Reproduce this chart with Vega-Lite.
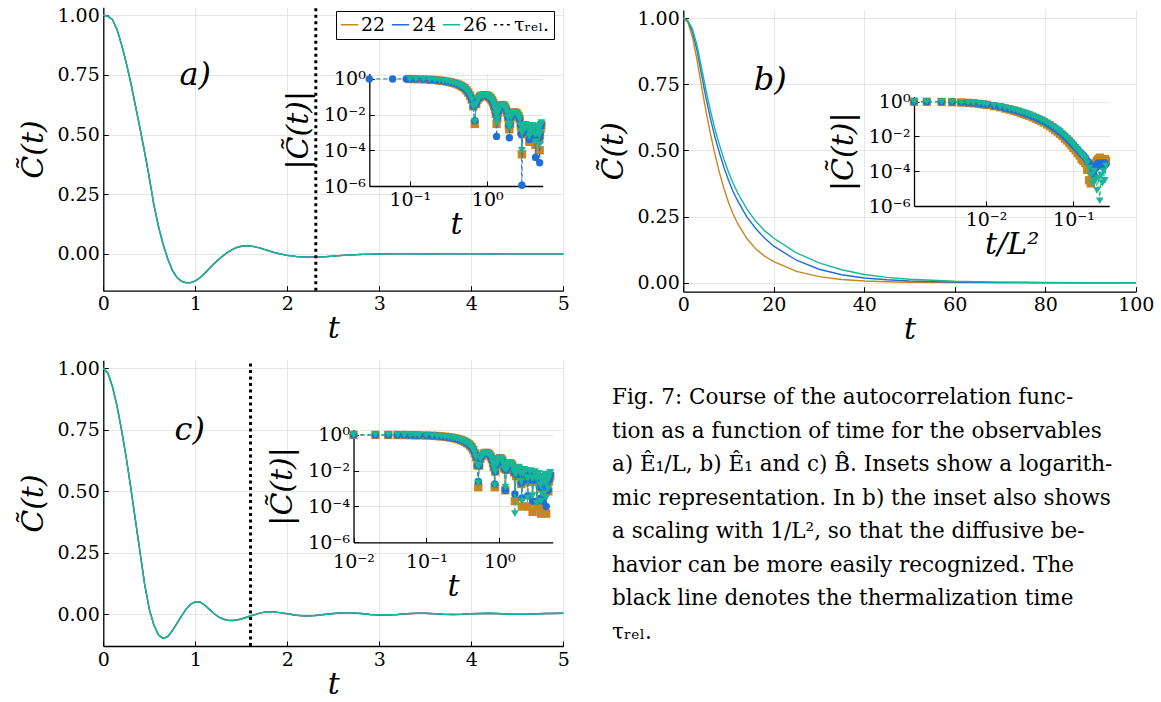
{
  "$schema": "https://vega.github.io/schema/vega-lite/v6.json",
  "width": 1161,
  "height": 702,
  "autosize": {"type": "none"},
  "padding": 0,
  "background": "white",
  "config": {
    "view": {"stroke": null},
    "font": "DejaVu Serif",
    "axis": {
      "labelFont": "DejaVu Serif", "labelFontSize": 19, "labelColor": "#000",
      "titleFont": "DejaVu Serif", "titleFontSize": 30, "titleFontStyle": "italic", "titleFontWeight": "normal", "titleColor": "#000",
      "domainColor": "#000", "domainWidth": 1.3,
      "tickColor": "#000", "tickSize": -5, "tickWidth": 1,
      "gridColor": "#e6e6e6", "gridWidth": 1,
      "labelPadding": 9, "titlePadding": 6, "labelFlush": false
    },
    "legend": {
      "orient": "none", "legendX": 336, "legendY": 11, "direction": "horizontal",
      "fillColor": "white", "strokeColor": "#000", "padding": 4,
      "labelFont": "DejaVu Serif", "labelFontSize": 19, "labelColor": "#000",
      "symbolType": "stroke", "symbolSize": 300, "symbolStrokeWidth": 1.6,
      "columnPadding": 2, "labelOffset": 2
    }
  },
  "datasets": {
    "mainA": [
      {"t":0,"22":1,"24":1,"26":1},{"t":0.05,"22":0.996,"24":0.996,"26":0.996},{"t":0.1,"22":0.982,"24":0.982,"26":0.982},
      {"t":0.15,"22":0.94,"24":0.94,"26":0.94},{"t":0.2,"22":0.875,"24":0.875,"26":0.875},{"t":0.25,"22":0.8,"24":0.8,"26":0.8},
      {"t":0.3,"22":0.715,"24":0.715,"26":0.715},{"t":0.35,"22":0.62,"24":0.62,"26":0.62},{"t":0.4,"22":0.525,"24":0.525,"26":0.525},
      {"t":0.45,"22":0.425,"24":0.425,"26":0.425},{"t":0.5,"22":0.32,"24":0.32,"26":0.32},{"t":0.55,"22":0.205,"24":0.205,"26":0.205},
      {"t":0.6,"22":0.115,"24":0.115,"26":0.115},{"t":0.65,"22":0.04,"24":0.04,"26":0.04},{"t":0.7,"22":-0.02,"24":-0.02,"26":-0.02},
      {"t":0.75,"22":-0.068,"24":-0.068,"26":-0.068},{"t":0.8,"22":-0.098,"24":-0.099,"26":-0.098},{"t":0.85,"22":-0.114,"24":-0.115,"26":-0.114},
      {"t":0.9,"22":-0.12,"24":-0.121,"26":-0.12},{"t":0.95,"22":-0.12,"24":-0.121,"26":-0.12},{"t":1.0,"22":-0.113,"24":-0.113,"26":-0.113},
      {"t":1.05,"22":-0.1,"24":-0.1,"26":-0.1},{"t":1.1,"22":-0.082,"24":-0.082,"26":-0.082},{"t":1.15,"22":-0.062,"24":-0.062,"26":-0.062},
      {"t":1.2,"22":-0.042,"24":-0.042,"26":-0.042},{"t":1.25,"22":-0.024,"24":-0.024,"26":-0.024},{"t":1.3,"22":-0.008,"24":-0.008,"26":-0.008},
      {"t":1.35,"22":0.006,"24":0.006,"26":0.006},{"t":1.4,"22":0.018,"24":0.018,"26":0.018},{"t":1.45,"22":0.027,"24":0.027,"26":0.027},
      {"t":1.5,"22":0.032,"24":0.032,"26":0.032},{"t":1.55,"22":0.034,"24":0.034,"26":0.034},{"t":1.6,"22":0.033,"24":0.033,"26":0.033},
      {"t":1.65,"22":0.03,"24":0.03,"26":0.03},{"t":1.7,"22":0.025,"24":0.025,"26":0.025},{"t":1.75,"22":0.019,"24":0.019,"26":0.019},
      {"t":1.8,"22":0.013,"24":0.013,"26":0.013},{"t":1.85,"22":0.007,"24":0.007,"26":0.007},{"t":1.9,"22":0.002,"24":0.002,"26":0.002},
      {"t":1.95,"22":-0.002,"24":-0.002,"26":-0.002},{"t":2.0,"22":-0.006,"24":-0.006,"26":-0.006},{"t":2.1,"22":-0.011,"24":-0.011,"26":-0.011},
      {"t":2.2,"22":-0.013,"24":-0.013,"26":-0.013},{"t":2.3,"22":-0.013,"24":-0.013,"26":-0.013},{"t":2.4,"22":-0.012,"24":-0.012,"26":-0.012},
      {"t":2.5,"22":-0.009,"24":-0.009,"26":-0.009},{"t":2.6,"22":-0.006,"24":-0.006,"26":-0.006},{"t":2.7,"22":-0.004,"24":-0.004,"26":-0.004},
      {"t":2.8,"22":-0.002,"24":-0.002,"26":-0.002},{"t":2.9,"22":-0.001,"24":-0.001,"26":-0.001},{"t":3.0,"22":0.0,"24":0.0,"26":0.0},
      {"t":3.25,"22":0.001,"24":0.001,"26":0.001},{"t":3.5,"22":0.0,"24":0.0,"26":0.0},{"t":3.75,"22":0.001,"24":0.001,"26":0.001},
      {"t":4.0,"22":0.001,"24":0.001,"26":0.001},{"t":4.25,"22":0.0,"24":0.0,"26":0.0},{"t":4.5,"22":0.001,"24":0.001,"26":0.001},
      {"t":4.75,"22":0.001,"24":0.001,"26":0.001},{"t":5.0,"22":0.001,"24":0.001,"26":0.001}
    ],
    "mainB": [
      {"t":0,"22":1,"24":1,"26":1},{"t":1,"22":0.985,"24":0.99,"26":0.99},{"t":2,"22":0.93,"24":0.95,"26":0.96},
      {"t":3,"22":0.845,"24":0.88,"26":0.9},{"t":4,"22":0.745,"24":0.79,"26":0.815},{"t":5,"22":0.65,"24":0.7,"26":0.73},
      {"t":6,"22":0.563,"24":0.62,"26":0.65},{"t":7,"22":0.485,"24":0.55,"26":0.58},{"t":8,"22":0.415,"24":0.49,"26":0.52},
      {"t":9,"22":0.355,"24":0.435,"26":0.465},{"t":10,"22":0.303,"24":0.387,"26":0.418},{"t":11,"22":0.26,"24":0.345,"26":0.376},
      {"t":12,"22":0.224,"24":0.31,"26":0.34},{"t":14,"22":0.168,"24":0.25,"26":0.28},{"t":16,"22":0.128,"24":0.205,"26":0.232},
      {"t":18,"22":0.1,"24":0.168,"26":0.196},{"t":20,"22":0.08,"24":0.138,"26":0.168},{"t":25,"22":0.043,"24":0.085,"26":0.113},
      {"t":30,"22":0.023,"24":0.051,"26":0.075},{"t":35,"22":0.012,"24":0.03,"26":0.049},{"t":40,"22":0.0065,"24":0.018,"26":0.031},
      {"t":45,"22":0.0035,"24":0.011,"26":0.02},{"t":50,"22":0.0019,"24":0.0065,"26":0.013},{"t":60,"22":0.0006,"24":0.0023,"26":0.0054},
      {"t":70,"22":0.0002,"24":0.0008,"26":0.0022},{"t":80,"22":0.0001,"24":0.0003,"26":0.0009},{"t":90,"22":0.0001,"24":0.0001,"26":0.0004},
      {"t":100,"22":0.0001,"24":0.0001,"26":0.0002}
    ],
    "mainC": [
      {"t":0,"22":1,"24":1,"26":1},{"t":0.05,"22":0.98,"24":0.98,"26":0.98},{"t":0.1,"22":0.925,"24":0.925,"26":0.925},
      {"t":0.15,"22":0.845,"24":0.845,"26":0.845},{"t":0.2,"22":0.745,"24":0.745,"26":0.745},{"t":0.25,"22":0.635,"24":0.635,"26":0.635},
      {"t":0.3,"22":0.51,"24":0.51,"26":0.51},{"t":0.35,"22":0.38,"24":0.38,"26":0.38},{"t":0.4,"22":0.25,"24":0.25,"26":0.25},
      {"t":0.45,"22":0.12,"24":0.12,"26":0.12},{"t":0.5,"22":0.02,"24":0.02,"26":0.02},{"t":0.55,"22":-0.045,"24":-0.045,"26":-0.045},
      {"t":0.6,"22":-0.085,"24":-0.085,"26":-0.085},{"t":0.65,"22":-0.099,"24":-0.099,"26":-0.099},{"t":0.7,"22":-0.092,"24":-0.092,"26":-0.092},
      {"t":0.75,"22":-0.068,"24":-0.068,"26":-0.068},{"t":0.8,"22":-0.038,"24":-0.038,"26":-0.038},{"t":0.85,"22":-0.008,"24":-0.008,"26":-0.008},
      {"t":0.9,"22":0.02,"24":0.02,"26":0.02},{"t":0.95,"22":0.04,"24":0.04,"26":0.04},{"t":1.0,"22":0.05,"24":0.05,"26":0.05},
      {"t":1.05,"22":0.049,"24":0.049,"26":0.049},{"t":1.1,"22":0.037,"24":0.037,"26":0.037},{"t":1.15,"22":0.02,"24":0.02,"26":0.02},
      {"t":1.2,"22":0.003,"24":0.003,"26":0.003},{"t":1.25,"22":-0.011,"24":-0.011,"26":-0.011},{"t":1.3,"22":-0.02,"24":-0.02,"26":-0.02},
      {"t":1.35,"22":-0.025,"24":-0.025,"26":-0.025},{"t":1.4,"22":-0.026,"24":-0.026,"26":-0.026},{"t":1.45,"22":-0.024,"24":-0.024,"26":-0.024},
      {"t":1.5,"22":-0.02,"24":-0.02,"26":-0.02},{"t":1.55,"22":-0.014,"24":-0.014,"26":-0.014},{"t":1.6,"22":-0.008,"24":-0.008,"26":-0.008},
      {"t":1.65,"22":-0.002,"24":-0.002,"26":-0.002},{"t":1.7,"22":0.004,"24":0.004,"26":0.004},{"t":1.75,"22":0.008,"24":0.008,"26":0.008},
      {"t":1.8,"22":0.01,"24":0.01,"26":0.01},{"t":1.85,"22":0.009,"24":0.009,"26":0.009},{"t":1.9,"22":0.007,"24":0.007,"26":0.007},
      {"t":1.95,"22":0.004,"24":0.004,"26":0.004},{"t":2.0,"22":0.001,"24":0.001,"26":0.001},{"t":2.1,"22":-0.005,"24":-0.005,"26":-0.005},
      {"t":2.2,"22":-0.008,"24":-0.008,"26":-0.008},{"t":2.3,"22":-0.006,"24":-0.006,"26":-0.006},{"t":2.4,"22":-0.002,"24":-0.002,"26":-0.002},
      {"t":2.5,"22":0.002,"24":0.002,"26":0.002},{"t":2.6,"22":0.005,"24":0.005,"26":0.005},{"t":2.7,"22":0.005,"24":0.005,"26":0.005},
      {"t":2.8,"22":0.002,"24":0.002,"26":0.002},{"t":2.9,"22":-0.002,"24":-0.002,"26":-0.002},{"t":3.0,"22":-0.004,"24":-0.004,"26":-0.004},
      {"t":3.1,"22":-0.004,"24":-0.004,"26":-0.004},{"t":3.2,"22":-0.002,"24":-0.002,"26":-0.002},{"t":3.3,"22":0.001,"24":0.001,"26":0.001},
      {"t":3.4,"22":0.003,"24":0.003,"26":0.003},{"t":3.5,"22":0.003,"24":0.003,"26":0.003},{"t":3.6,"22":0.001,"24":0.001,"26":0.001},
      {"t":3.7,"22":-0.001,"24":-0.001,"26":-0.001},{"t":3.8,"22":-0.002,"24":-0.002,"26":-0.002},{"t":3.9,"22":-0.001,"24":-0.001,"26":-0.001},
      {"t":4.0,"22":0.001,"24":0.001,"26":0.001},{"t":4.2,"22":0.003,"24":0.003,"26":0.003},{"t":4.4,"22":0.0,"24":0.0,"26":0.0},
      {"t":4.6,"22":-0.001,"24":-0.001,"26":-0.001},{"t":4.8,"22":0.002,"24":0.002,"26":0.002},{"t":5.0,"22":0.003,"24":0.003,"26":0.003}
    ],
    "insA": [
      {"t":0.03,"22":null,"24":0.998,"26":null},{"t":0.06,"22":null,"24":0.994,"26":null},{"t":0.09,"22":null,"24":0.987,"26":null},
      {"t":0.1,"22":0.982,"24":0.982,"26":0.982},{"t":0.12,"22":0.968,"24":0.968,"26":0.968},{"t":0.15,"22":0.94,"24":0.94,"26":0.94},
      {"t":0.18,"22":0.902,"24":0.902,"26":0.902},{"t":0.21,"22":0.861,"24":0.861,"26":0.861},{"t":0.24,"22":0.815,"24":0.815,"26":0.815},
      {"t":0.27,"22":0.767,"24":0.767,"26":0.767},{"t":0.3,"22":0.715,"24":0.715,"26":0.715},{"t":0.33,"22":0.658,"24":0.658,"26":0.658},
      {"t":0.36,"22":0.601,"24":0.601,"26":0.601},{"t":0.39,"22":0.544,"24":0.544,"26":0.544},{"t":0.42,"22":0.485,"24":0.485,"26":0.485},
      {"t":0.45,"22":0.425,"24":0.425,"26":0.425},{"t":0.48,"22":0.362,"24":0.362,"26":0.362},{"t":0.51,"22":0.297,"24":0.297,"26":0.297},
      {"t":0.54,"22":0.228,"24":0.228,"26":0.228},{"t":0.57,"22":0.169,"24":0.169,"26":0.169},{"t":0.6,"22":0.115,"24":0.115,"26":0.115},
      {"t":0.63,"22":0.07,"24":0.07,"26":0.07},{"t":0.66,"22":0.029,"24":0.029,"26":0.029},{"t":0.69,"22":0.003,"24":0.0045,"26":0.004},
      {"t":0.72,"22":0.039,"24":0.039,"26":0.039},{"t":0.75,"22":0.068,"24":0.068,"26":0.068},{"t":0.78,"22":0.086,"24":0.086,"26":0.086},
      {"t":0.81,"22":0.102,"24":0.102,"26":0.102},{"t":0.84,"22":0.111,"24":0.111,"26":0.111},{"t":0.87,"22":0.117,"24":0.117,"26":0.117},
      {"t":0.9,"22":0.12,"24":0.12,"26":0.12},{"t":0.93,"22":0.121,"24":0.121,"26":0.121},{"t":0.96,"22":0.119,"24":0.119,"26":0.119},
      {"t":0.99,"22":0.115,"24":0.115,"26":0.115},{"t":1.02,"22":0.108,"24":0.108,"26":0.108},{"t":1.05,"22":0.1,"24":0.1,"26":0.1},
      {"t":1.08,"22":0.089,"24":0.089,"26":0.089},{"t":1.11,"22":0.078,"24":0.078,"26":0.078},{"t":1.14,"22":0.066,"24":0.066,"26":0.066},
      {"t":1.17,"22":0.054,"24":0.054,"26":0.054},{"t":1.2,"22":0.042,"24":0.042,"26":0.042},{"t":1.23,"22":0.031,"24":0.031,"26":0.031},
      {"t":1.26,"22":0.021,"24":0.021,"26":0.021},{"t":1.29,"22":0.011,"24":0.011,"26":0.011},{"t":1.32,"22":0.003,"24":0.0006,"26":0.0035},
      {"t":1.35,"22":0.006,"24":0.006,"26":0.006},{"t":1.38,"22":0.013,"24":0.013,"26":0.013},{"t":1.41,"22":0.02,"24":0.02,"26":0.02},
      {"t":1.44,"22":0.025,"24":0.025,"26":0.025},{"t":1.47,"22":0.029,"24":0.029,"26":0.029},{"t":1.5,"22":0.032,"24":0.032,"26":0.032},
      {"t":1.55,"22":0.034,"24":0.034,"26":0.034},{"t":1.6,"22":0.033,"24":0.033,"26":0.033},{"t":1.65,"22":0.03,"24":0.03,"26":0.03},
      {"t":1.7,"22":0.025,"24":0.025,"26":0.025},{"t":1.75,"22":0.019,"24":0.019,"26":0.019},{"t":1.8,"22":0.013,"24":0.013,"26":0.013},
      {"t":1.85,"22":0.007,"24":0.007,"26":0.007},{"t":1.9,"22":0.0025,"24":0.0025,"26":0.0025},{"t":1.93,"22":0.0015,"24":0.0005,"26":0.002},
      {"t":1.97,"22":0.003,"24":0.003,"26":0.003},{"t":2.02,"22":0.007,"24":0.007,"26":0.007},{"t":2.08,"22":0.01,"24":0.01,"26":0.01},
      {"t":2.15,"22":0.012,"24":0.012,"26":0.012},{"t":2.22,"22":0.013,"24":0.013,"26":0.013},{"t":2.3,"22":0.013,"24":0.013,"26":0.013},
      {"t":2.38,"22":0.012,"24":0.012,"26":0.012},{"t":2.46,"22":0.0098,"24":0.0098,"26":0.0098},{"t":2.54,"22":0.0078,"24":0.0078,"26":0.0078},
      {"t":2.62,"22":0.0055,"24":0.0055,"26":0.0055},{"t":2.7,"22":0.0025,"24":0.0025,"26":0.0025},{"t":2.75,"22":0.0012,"24":0.0008,"26":0.0012},
      {"t":2.8,"22":0.00006,"24":0.0000011,"26":0.0001},{"t":2.86,"22":0.0008,"24":0.0009,"26":0.001},{"t":2.93,"22":0.0013,"24":0.0015,"26":0.0017},
      {"t":3.0,"22":0.0017,"24":0.0019,"26":0.0022},{"t":3.1,"22":0.0021,"24":0.0024,"26":0.0028},{"t":3.2,"22":0.0019,"24":0.0022,"26":0.0026},
      {"t":3.3,"22":0.0014,"24":0.0017,"26":0.002},{"t":3.4,"22":0.0008,"24":0.001,"26":0.0013},{"t":3.5,"22":0.0003,"24":0.0004,"26":0.0006},
      {"t":3.6,"22":0.0007,"24":0.0009,"26":0.0012},{"t":3.7,"22":0.0013,"24":0.0016,"26":0.002},{"t":3.8,"22":0.0018,"24":0.0021,"26":0.0025},
      {"t":3.9,"22":0.0016,"24":0.0019,"26":0.0023},{"t":4.0,"22":0.001,"24":0.0013,"26":0.0016},{"t":4.1,"22":0.0005,"24":0.0006,"26":0.0008},
      {"t":4.2,"22":0.0002,"24":0.00004,"26":0.0003},{"t":4.3,"22":0.0006,"24":0.0007,"26":0.0009},{"t":4.4,"22":0.0012,"24":0.0014,"26":0.0017},
      {"t":4.5,"22":0.0015,"24":0.0018,"26":0.0022},{"t":4.6,"22":0.001,"24":0.0012,"26":0.0015},{"t":4.7,"22":0.0004,"24":0.0005,"26":0.0007},
      {"t":4.75,"22":0.0001,"24":0.00002,"26":0.0002},{"t":4.8,"22":0.0007,"24":0.0008,"26":0.001},{"t":4.9,"22":0.0017,"24":0.002,"26":0.0024},
      {"t":5.0,"22":0.0026,"24":0.003,"26":0.0035}
    ],
    "insB": [
      {"s":0.0015,"22":0.993,"24":0.994,"26":0.995},{"s":0.0021,"22":0.985,"24":0.99,"26":0.99},{"s":0.0031,"22":0.96,"24":0.97,"26":0.97},
      {"s":0.0041,"22":0.93,"24":0.945,"26":0.95},{"s":0.0052,"22":0.89,"24":0.91,"26":0.915},{"s":0.0062,"22":0.85,"24":0.87,"26":0.875},
      {"s":0.0072,"22":0.8,"24":0.825,"26":0.83},{"s":0.0083,"22":0.74,"24":0.77,"26":0.78},{"s":0.0093,"22":0.69,"24":0.72,"26":0.73},
      {"s":0.0103,"22":0.64,"24":0.67,"26":0.68},{"s":0.0124,"22":0.55,"24":0.58,"26":0.59},{"s":0.0145,"22":0.48,"24":0.5,"26":0.51},
      {"s":0.0165,"22":0.4,"24":0.43,"26":0.44},{"s":0.0186,"22":0.35,"24":0.375,"26":0.385},{"s":0.0207,"22":0.3,"24":0.33,"26":0.34},
      {"s":0.023,"22":0.26,"24":0.29,"26":0.3},{"s":0.025,"22":0.222,"24":0.25,"26":0.26},{"s":0.027,"22":0.196,"24":0.22,"26":0.23},
      {"s":0.029,"22":0.175,"24":0.195,"26":0.205},{"s":0.031,"22":0.155,"24":0.175,"26":0.18},{"s":0.034,"22":0.128,"24":0.145,"26":0.152},
      {"s":0.037,"22":0.106,"24":0.122,"26":0.128},{"s":0.04,"22":0.089,"24":0.102,"26":0.107},{"s":0.043,"22":0.076,"24":0.086,"26":0.09},
      {"s":0.046,"22":0.063,"24":0.073,"26":0.077},{"s":0.05,"22":0.049,"24":0.058,"26":0.061},{"s":0.054,"22":0.039,"24":0.046,"26":0.049},
      {"s":0.058,"22":0.03,"24":0.036,"26":0.038},{"s":0.062,"22":0.023,"24":0.029,"26":0.03},{"s":0.066,"22":0.019,"24":0.023,"26":0.024},
      {"s":0.07,"22":0.014,"24":0.018,"26":0.019},{"s":0.075,"22":0.0105,"24":0.0135,"26":0.014},{"s":0.08,"22":0.0075,"24":0.01,"26":0.0105},
      {"s":0.085,"22":0.0058,"24":0.0075,"26":0.0078},{"s":0.09,"22":0.0042,"24":0.0056,"26":0.0058},{"s":0.095,"22":0.0031,"24":0.0042,"26":0.0043},
      {"s":0.1,"22":0.0022,"24":0.0032,"26":0.0032},{"s":0.106,"22":0.0016,"24":0.0024,"26":0.0023},{"s":0.112,"22":0.0011,"24":0.0018,"26":0.0017},
      {"s":0.118,"22":0.0008,"24":0.0013,"26":0.0012},{"s":0.124,"22":0.0005,"24":0.001,"26":0.0009},{"s":0.13,"22":0.0004,"24":0.0008,"26":0.0007},
      {"s":0.137,"22":0.0003,"24":0.0006,"26":0.0005},{"s":0.144,"22":0.00012,"24":0.0004,"26":0.0003},{"s":0.151,"22":0.00003,"24":0.0003,"26":0.00015},
      {"s":0.158,"22":0.00002,"24":0.0002,"26":0.00006},{"s":0.165,"22":0.00008,"24":0.00012,"26":0.00002},{"s":0.172,"22":0.0002,"24":0.00006,"26":0.0001},
      {"s":0.179,"22":0.0003,"24":0.00015,"26":0.00003},{"s":0.186,"22":0.0004,"24":0.00025,"26":0.000008},{"s":0.193,"22":0.0005,"24":0.0003,"26":0.00004},
      {"s":0.2,"22":0.0006,"24":0.00025,"26":0.000002},{"s":0.207,"22":0.0005,"24":0.0002,"26":0.00006},{"s":0.214,"22":0.0003,"24":0.0003,"26":0.00002},
      {"s":0.221,"22":0.0004,"24":0.0002,"26":0.0001},{"s":0.228,"22":0.0005,"24":0.0003,"26":0.00003},{"s":0.235,"22":0.0004,"24":0.00025,"26":0.0002}
    ],
    "insC": [
      {"t":0.01,"22":0.9995,"24":0.9995,"26":0.9995},{"t":0.02,"22":0.998,"24":0.998,"26":0.998},{"t":0.03,"22":0.994,"24":0.994,"26":0.994},
      {"t":0.04,"22":0.989,"24":0.989,"26":0.989},{"t":0.05,"22":0.98,"24":0.98,"26":0.98},{"t":0.06,"22":0.97,"24":0.97,"26":0.97},
      {"t":0.07,"22":0.958,"24":0.958,"26":0.958},{"t":0.08,"22":0.945,"24":0.945,"26":0.945},{"t":0.1,"22":0.925,"24":0.925,"26":0.925},
      {"t":0.12,"22":0.895,"24":0.895,"26":0.895},{"t":0.14,"22":0.862,"24":0.862,"26":0.862},{"t":0.16,"22":0.826,"24":0.826,"26":0.826},
      {"t":0.18,"22":0.785,"24":0.785,"26":0.785},{"t":0.2,"22":0.745,"24":0.745,"26":0.745},{"t":0.22,"22":0.702,"24":0.702,"26":0.702},
      {"t":0.24,"22":0.657,"24":0.657,"26":0.657},{"t":0.26,"22":0.61,"24":0.61,"26":0.61},{"t":0.28,"22":0.56,"24":0.56,"26":0.56},
      {"t":0.3,"22":0.51,"24":0.51,"26":0.51},{"t":0.32,"22":0.458,"24":0.458,"26":0.458},{"t":0.34,"22":0.406,"24":0.406,"26":0.406},
      {"t":0.36,"22":0.354,"24":0.354,"26":0.354},{"t":0.38,"22":0.302,"24":0.302,"26":0.302},{"t":0.4,"22":0.25,"24":0.25,"26":0.25},
      {"t":0.42,"22":0.198,"24":0.198,"26":0.198},{"t":0.44,"22":0.146,"24":0.146,"26":0.146},{"t":0.46,"22":0.095,"24":0.095,"26":0.095},
      {"t":0.48,"22":0.057,"24":0.057,"26":0.057},{"t":0.5,"22":0.02,"24":0.02,"26":0.02},{"t":0.515,"22":0.0012,"24":0.0025,"26":0.002},
      {"t":0.53,"22":0.019,"24":0.019,"26":0.019},{"t":0.55,"22":0.045,"24":0.045,"26":0.045},{"t":0.58,"22":0.069,"24":0.069,"26":0.069},
      {"t":0.61,"22":0.089,"24":0.089,"26":0.089},{"t":0.64,"22":0.098,"24":0.098,"26":0.098},{"t":0.67,"22":0.098,"24":0.098,"26":0.098},
      {"t":0.7,"22":0.092,"24":0.092,"26":0.092},{"t":0.73,"22":0.08,"24":0.08,"26":0.08},{"t":0.76,"22":0.062,"24":0.062,"26":0.062},
      {"t":0.79,"22":0.044,"24":0.044,"26":0.044},{"t":0.82,"22":0.027,"24":0.027,"26":0.027},{"t":0.84,"22":0.016,"24":0.016,"26":0.016},
      {"t":0.865,"22":0.0012,"24":0.0018,"26":0.0015},{"t":0.88,"22":0.009,"24":0.009,"26":0.009},{"t":0.9,"22":0.02,"24":0.02,"26":0.02},
      {"t":0.94,"22":0.036,"24":0.036,"26":0.036},{"t":0.98,"22":0.046,"24":0.046,"26":0.046},{"t":1.02,"22":0.05,"24":0.05,"26":0.05},
      {"t":1.06,"22":0.047,"24":0.047,"26":0.047},{"t":1.1,"22":0.037,"24":0.037,"26":0.037},{"t":1.14,"22":0.023,"24":0.023,"26":0.023},
      {"t":1.17,"22":0.013,"24":0.013,"26":0.013},{"t":1.21,"22":0.0008,"24":0.0008,"26":0.0012},{"t":1.25,"22":0.011,"24":0.011,"26":0.011},
      {"t":1.3,"22":0.02,"24":0.02,"26":0.02},{"t":1.35,"22":0.025,"24":0.025,"26":0.025},{"t":1.4,"22":0.026,"24":0.026,"26":0.026},
      {"t":1.45,"22":0.024,"24":0.024,"26":0.024},{"t":1.5,"22":0.02,"24":0.02,"26":0.02},{"t":1.55,"22":0.014,"24":0.014,"26":0.014},
      {"t":1.6,"22":0.008,"24":0.008,"26":0.008},{"t":1.635,"22":0.0002,"24":0.0005,"26":0.00004},{"t":1.7,"22":0.005,"24":0.006,"26":0.007},
      {"t":1.75,"22":0.011,"24":0.012,"26":0.013},{"t":1.8,"22":0.013,"24":0.014,"26":0.016},{"t":1.85,"22":0.012,"24":0.013,"26":0.015},
      {"t":1.9,"22":0.009,"24":0.01,"26":0.012},{"t":1.95,"22":0.005,"24":0.006,"26":0.007},{"t":2.0,"22":0.0018,"24":0.002,"26":0.0025},
      {"t":2.04,"22":0.0001,"24":0.0003,"26":0.0002},{"t":2.1,"22":0.005,"24":0.006,"26":0.007},{"t":2.2,"22":0.009,"24":0.01,"26":0.012},
      {"t":2.3,"22":0.007,"24":0.008,"26":0.01},{"t":2.4,"22":0.0025,"24":0.003,"26":0.004},{"t":2.45,"22":0.0001,"24":0.0004,"26":0.0003},
      {"t":2.5,"22":0.0025,"24":0.003,"26":0.004},{"t":2.6,"22":0.006,"24":0.007,"26":0.009},{"t":2.7,"22":0.007,"24":0.008,"26":0.01},
      {"t":2.8,"22":0.0025,"24":0.003,"26":0.004},{"t":2.86,"22":0.00005,"24":0.0002,"26":0.0004},{"t":2.92,"22":0.0025,"24":0.003,"26":0.004},
      {"t":3.0,"22":0.005,"24":0.006,"26":0.008},{"t":3.1,"22":0.006,"24":0.007,"26":0.009},{"t":3.2,"22":0.0025,"24":0.003,"26":0.004},
      {"t":3.27,"22":0.0001,"24":0.0002,"26":0.00015},{"t":3.35,"22":0.0025,"24":0.003,"26":0.004},{"t":3.45,"22":0.004,"24":0.005,"26":0.007},
      {"t":3.55,"22":0.0035,"24":0.004,"26":0.005},{"t":3.65,"22":0.001,"24":0.0012,"26":0.0016},{"t":3.72,"22":0.00004,"24":0.0003,"26":0.0002},
      {"t":3.8,"22":0.0025,"24":0.003,"26":0.004},{"t":3.9,"22":0.0017,"24":0.002,"26":0.0026},{"t":3.95,"22":0.0001,"24":0.0002,"26":0.0005},
      {"t":4.05,"22":0.0025,"24":0.003,"26":0.004},{"t":4.2,"22":0.0042,"24":0.005,"26":0.0065},{"t":4.32,"22":0.0013,"24":0.0015,"26":0.002},
      {"t":4.4,"22":0.00004,"24":0.0001,"26":0.0003},{"t":4.5,"22":0.0017,"24":0.002,"26":0.0026},{"t":4.6,"22":0.0025,"24":0.003,"26":0.004},
      {"t":4.7,"22":0.0007,"24":0.0008,"26":0.001},{"t":4.8,"22":0.0025,"24":0.003,"26":0.004},{"t":4.9,"22":0.0042,"24":0.005,"26":0.0065},
      {"t":5.0,"22":0.005,"24":0.006,"26":0.008}
    ],
    "tau": [
      {"panel":"a","t":2.31,"s":null,"L":"τᵣₑₗ."},
      {"panel":"b","t":null,"s":0.082,"L":"τᵣₑₗ."},
      {"panel":"c","t":1.6,"s":null,"L":"τᵣₑₗ."}
    ],
    "labels": [
      {"panel":"a","label":"a)"},
      {"panel":"b","label":"b)"},
      {"panel":"c","label":"c)"}
    ],
    "caption": [
      {"line":1,"text":"Fig. 7: Course of the autocorrelation func-"},
      {"line":2,"text":"tion as a function of time for the observables"},
      {"line":3,"text":"a) Ê₁/L, b) Ê₁ and c) B̂. Insets show a logarith-"},
      {"line":4,"text":"mic representation. In b) the inset also shows"},
      {"line":5,"text":"a scaling with 1/L², so that the diffusive be-"},
      {"line":6,"text":"havior can be more easily recognized. The"},
      {"line":7,"text":"black line denotes the thermalization time"},
      {"line":8,"text":"τᵣₑₗ."}
    ]
  },
  "layer": [
    {
      "resolve": {"axis": {"x": "independent"}},
      "layer": [
        {
          "data": {"name": "mainA"},
          "transform": [{"fold": ["22","24","26"], "as": ["L","C"]}],
          "mark": {"type": "line", "strokeWidth": 1.4},
          "encoding": {
            "x": {"field": "t", "type": "quantitative",
              "scale": {"domain": [0,5], "range": [103.3,563.3], "nice": false, "zero": false},
              "axis": {"orient": "bottom", "offset": -411.3, "values": [0,1,2,3,4,5], "format": "d", "title": "t", "grid": false, "titlePadding": 0}},
            "y": {"field": "C", "type": "quantitative",
              "scale": {"domain": [-0.154,1.034], "range": [290.7,7.2], "nice": false, "zero": false},
              "axis": {"orient": "left", "offset": -103.3, "values": [0,0.25,0.5,0.75,1], "format": ".2f", "title": "C̃(t)", "grid": true, "titlePadding": 8}},
            "color": {"field": "L", "type": "nominal", "title": null,
              "scale": {"domain": ["22","24","26","τᵣₑₗ."], "range": ["#C8861E","#1F6FD6","#19B697","#000000"]}},
            "strokeDash": {"field": "L", "type": "nominal", "title": null,
              "scale": {"domain": ["22","24","26","τᵣₑₗ."], "range": [[1,0],[1,0],[1,0],[3,3.5]]}}
          }
        },
        {
          "data": {"name": "tau"},
          "transform": [{"filter": "datum.panel == 'a'"}],
          "mark": {"type": "rule", "strokeWidth": 3},
          "encoding": {
            "x": {"field": "t", "type": "quantitative",
              "axis": {"orient": "top", "offset": 0, "values": [0,1,2,3,4,5], "grid": true, "domain": false, "ticks": false, "labels": false, "title": null}},
            "y": {"datum": -0.154},
            "y2": {"datum": 1.034},
            "color": {"field": "L", "type": "nominal", "title": null},
            "strokeDash": {"field": "L", "type": "nominal", "title": null}
          }
        },
        {
          "data": {"name": "labels"},
          "transform": [{"filter": "datum.panel == 'a'"}],
          "mark": {"type": "text", "font": "DejaVu Serif", "fontStyle": "italic", "fontSize": 32, "color": "#000"},
          "encoding": {"x": {"datum": 1.0, "axis": null}, "y": {"datum": 0.75}, "text": {"field": "label"}}
        }
      ]
    },
    {
      "data": {"name": "insA"},
      "transform": [{"fold": ["22","24","26"], "as": ["L","v"]}],
      "resolve": {"axis": {"x": "independent"}},
      "encoding": {
        "x": {"field": "t", "type": "quantitative",
          "scale": {"type": "log", "domain": [0.03,5.2], "range": [369.3,542.7], "nice": false}, "axis": null},
        "y": {"field": "v", "type": "quantitative",
          "scale": {"type": "log", "domain": [0.000001,2], "range": [186,73.5], "nice": false}}
      },
      "layer": [
        {"transform": [{"filter": "datum.L == '22'"}], "mark": {"type": "line", "color": "#C8861E", "strokeWidth": 1, "strokeDash": [4,3]},
          "encoding": {
            "x": {"field": "t", "type": "quantitative", "scale": {"type": "log"},
              "axis": {"orient": "bottom", "offset": -516, "values": [0.1,1], "title": "t", "grid": false, "titlePadding": 0,
                "labelExpr": "'10'+replace(replace(replace(replace(replace(replace(toString(round(log(datum.value)/LN10)),'-','⁻'),'0','⁰'),'1','¹'),'2','²'),'4','⁴'),'6','⁶')"}},
            "y": {"field": "v", "type": "quantitative", "scale": {"type": "log"},
              "axis": {"orient": "left", "offset": -369.3, "values": [0.000001,0.0001,0.01,1], "title": "|C̃(t)|", "grid": true, "titlePadding": 10,
                "labelExpr": "'10'+replace(replace(replace(replace(replace(replace(toString(round(log(datum.value)/LN10)),'-','⁻'),'0','⁰'),'1','¹'),'2','²'),'4','⁴'),'6','⁶')"}}
          }},
        {"transform": [{"filter": "datum.L == '22'"}], "mark": {"type": "point", "shape": "square", "filled": true, "size": 70, "color": "#C8861E", "opacity": 1}},
        {"transform": [{"filter": "datum.L == '24'"}], "mark": {"type": "line", "color": "#1F6FD6", "strokeWidth": 1, "strokeDash": [4,3]}},
        {"transform": [{"filter": "datum.L == '24'"}], "mark": {"type": "point", "shape": "circle", "filled": true, "size": 55, "color": "#1F6FD6", "opacity": 1}},
        {"transform": [{"filter": "datum.L == '26'"}], "mark": {"type": "line", "color": "#19B697", "strokeWidth": 1, "strokeDash": [4,3]}},
        {"transform": [{"filter": "datum.L == '26'"}], "mark": {"type": "point", "shape": "triangle-down", "filled": true, "size": 60, "color": "#19B697", "opacity": 1}},
        {
          "data": {"name": "tau"},
          "transform": [{"filter": "datum.panel == 'a'"}],
          "mark": {"type": "rule", "strokeWidth": 3, "color": "#000", "strokeDash": [3,3.5]},
          "encoding": {
            "x": {"field": "t", "type": "quantitative", "scale": {"type": "log"},
              "axis": {"orient": "top", "offset": 0, "values": [0.1,1], "grid": true, "domain": false, "ticks": false, "labels": false, "title": null}},
            "y": {"datum": 0.000001, "scale": {"type": "log"}}, "y2": {"datum": 2}}
        }
      ]
    },
    {
      "resolve": {"axis": {"x": "independent"}},
      "layer": [
        {
          "data": {"name": "mainB"},
          "transform": [{"fold": ["22","24","26"], "as": ["L","C"]}],
          "mark": {"type": "line", "strokeWidth": 1.4},
          "encoding": {
            "x": {"field": "t", "type": "quantitative",
              "scale": {"domain": [0,100], "range": [683.3,1135.8], "nice": false, "zero": false},
              "axis": {"orient": "bottom", "offset": -410.3, "values": [0,20,40,60,80,100], "format": "d", "title": "t", "grid": false, "titlePadding": 0}},
            "y": {"field": "C", "type": "quantitative",
              "scale": {"domain": [-0.034,1.031], "range": [291.7,10], "nice": false, "zero": false},
              "axis": {"orient": "left", "offset": -683.3, "values": [0,0.25,0.5,0.75,1], "format": ".2f", "title": "C̃(t)", "grid": true, "titlePadding": 8}},
            "color": {"field": "L", "type": "nominal", "title": null}
          }
        },
        {
          "data": {"name": "labels"},
          "transform": [{"filter": "datum.panel == 'b'"}],
          "mark": {"type": "text", "font": "DejaVu Serif", "fontStyle": "italic", "fontSize": 32, "color": "#000"},
          "encoding": {
            "x": {"datum": 19.2,
              "axis": {"orient": "top", "offset": 0, "values": [0,20,40,60,80,100], "grid": true, "domain": false, "ticks": false, "labels": false, "title": null}},
            "y": {"datum": 0.767}, "text": {"field": "label"}}
        }
      ]
    },
    {
      "data": {"name": "insB"},
      "transform": [{"fold": ["22","24","26"], "as": ["L","v"]}],
      "resolve": {"axis": {"x": "independent"}},
      "encoding": {
        "x": {"field": "s", "type": "quantitative",
          "scale": {"type": "log", "domain": [0.0015,0.257], "range": [914,1109.3], "nice": false}, "axis": null},
        "y": {"field": "v", "type": "quantitative",
          "scale": {"type": "log", "domain": [0.000001,2], "range": [206,96.4], "nice": false}}
      },
      "layer": [
        {"transform": [{"filter": "datum.L == '22'"}], "mark": {"type": "line", "color": "#C8861E", "strokeWidth": 1, "strokeDash": [4,3]},
          "encoding": {
            "x": {"field": "s", "type": "quantitative", "scale": {"type": "log"},
              "axis": {"orient": "bottom", "offset": -496, "values": [0.01,0.1], "title": "t/L²", "grid": false, "titlePadding": 0,
                "labelExpr": "'10'+replace(replace(replace(replace(replace(replace(toString(round(log(datum.value)/LN10)),'-','⁻'),'0','⁰'),'1','¹'),'2','²'),'4','⁴'),'6','⁶')"}},
            "y": {"field": "v", "type": "quantitative", "scale": {"type": "log"},
              "axis": {"orient": "left", "offset": -914, "values": [0.000001,0.0001,0.01,1], "title": "|C̃(t)|", "grid": true, "titlePadding": 10,
                "labelExpr": "'10'+replace(replace(replace(replace(replace(replace(toString(round(log(datum.value)/LN10)),'-','⁻'),'0','⁰'),'1','¹'),'2','²'),'4','⁴'),'6','⁶')"}}
          }},
        {"transform": [{"filter": "datum.L == '22'"}], "mark": {"type": "point", "shape": "square", "filled": true, "size": 70, "color": "#C8861E", "opacity": 1}},
        {"transform": [{"filter": "datum.L == '24'"}], "mark": {"type": "line", "color": "#1F6FD6", "strokeWidth": 1, "strokeDash": [4,3]}},
        {"transform": [{"filter": "datum.L == '24'"}], "mark": {"type": "point", "shape": "circle", "filled": true, "size": 55, "color": "#1F6FD6", "opacity": 1}},
        {"transform": [{"filter": "datum.L == '26'"}], "mark": {"type": "line", "color": "#19B697", "strokeWidth": 1, "strokeDash": [4,3]}},
        {"transform": [{"filter": "datum.L == '26'"}], "mark": {"type": "point", "shape": "triangle-down", "filled": true, "size": 60, "color": "#19B697", "opacity": 1}},
        {
          "data": {"name": "tau"},
          "transform": [{"filter": "datum.panel == 'b'"}],
          "mark": {"type": "rule", "strokeWidth": 3, "color": "#000", "strokeDash": [3,3.5]},
          "encoding": {
            "x": {"field": "s", "type": "quantitative", "scale": {"type": "log"},
              "axis": {"orient": "top", "offset": 0, "values": [0.01,0.1], "grid": true, "domain": false, "ticks": false, "labels": false, "title": null}},
            "y": {"datum": 0.000001, "scale": {"type": "log"}}, "y2": {"datum": 2}}
        }
      ]
    },
    {
      "resolve": {"axis": {"x": "independent"}},
      "layer": [
        {
          "data": {"name": "mainC"},
          "transform": [{"fold": ["22","24","26"], "as": ["L","C"]}],
          "mark": {"type": "line", "strokeWidth": 1.4},
          "encoding": {
            "x": {"field": "t", "type": "quantitative",
              "scale": {"domain": [0,5], "range": [103.3,563.3], "nice": false, "zero": false},
              "axis": {"orient": "bottom", "offset": -56, "values": [0,1,2,3,4,5], "format": "d", "title": "t", "grid": false, "titlePadding": 0}},
            "y": {"field": "C", "type": "quantitative",
              "scale": {"domain": [-0.13,1.033], "range": [646,360.2], "nice": false, "zero": false},
              "axis": {"orient": "left", "offset": -103.3, "values": [0,0.25,0.5,0.75,1], "format": ".2f", "title": "C̃(t)", "grid": true, "titlePadding": 8}},
            "color": {"field": "L", "type": "nominal", "title": null}
          }
        },
        {
          "data": {"name": "tau"},
          "transform": [{"filter": "datum.panel == 'c'"}],
          "mark": {"type": "rule", "strokeWidth": 3, "color": "#000", "strokeDash": [3,3.5]},
          "encoding": {
            "x": {"field": "t", "type": "quantitative",
              "axis": {"orient": "top", "offset": 0, "values": [0,1,2,3,4,5], "grid": true, "domain": false, "ticks": false, "labels": false, "title": null}},
            "y": {"datum": -0.13}, "y2": {"datum": 1.033}}
        },
        {
          "data": {"name": "labels"},
          "transform": [{"filter": "datum.panel == 'c'"}],
          "mark": {"type": "text", "font": "DejaVu Serif", "fontStyle": "italic", "fontSize": 32, "color": "#000"},
          "encoding": {"x": {"datum": 0.94, "axis": null}, "y": {"datum": 0.75}, "text": {"field": "label"}}
        }
      ]
    },
    {
      "data": {"name": "insC"},
      "transform": [{"fold": ["22","24","26"], "as": ["L","v"]}],
      "resolve": {"axis": {"x": "independent"}},
      "encoding": {
        "x": {"field": "t", "type": "quantitative",
          "scale": {"type": "log", "domain": [0.01,5.4], "range": [353.5,552.7], "nice": false}, "axis": null},
        "y": {"field": "v", "type": "quantitative",
          "scale": {"type": "log", "domain": [0.000001,2], "range": [542.3,429.5], "nice": false}}
      },
      "layer": [
        {"transform": [{"filter": "datum.L == '22'"}], "mark": {"type": "line", "color": "#C8861E", "strokeWidth": 1, "strokeDash": [4,3]},
          "encoding": {
            "x": {"field": "t", "type": "quantitative", "scale": {"type": "log"},
              "axis": {"orient": "bottom", "offset": -159.7, "values": [0.01,0.1,1], "title": "t", "grid": false, "titlePadding": 0, "labelPadding": 15,
                "labelExpr": "'10'+replace(replace(replace(replace(replace(replace(toString(round(log(datum.value)/LN10)),'-','⁻'),'0','⁰'),'1','¹'),'2','²'),'4','⁴'),'6','⁶')"}},
            "y": {"field": "v", "type": "quantitative", "scale": {"type": "log"},
              "axis": {"orient": "left", "offset": -353.5, "values": [0.000001,0.0001,0.01,1], "title": "|C̃(t)|", "grid": true, "titlePadding": 10,
                "labelExpr": "'10'+replace(replace(replace(replace(replace(replace(toString(round(log(datum.value)/LN10)),'-','⁻'),'0','⁰'),'1','¹'),'2','²'),'4','⁴'),'6','⁶')"}}
          }},
        {"transform": [{"filter": "datum.L == '22'"}], "mark": {"type": "point", "shape": "square", "filled": true, "size": 70, "color": "#C8861E", "opacity": 1}},
        {"transform": [{"filter": "datum.L == '24'"}], "mark": {"type": "line", "color": "#1F6FD6", "strokeWidth": 1, "strokeDash": [4,3]}},
        {"transform": [{"filter": "datum.L == '24'"}], "mark": {"type": "point", "shape": "circle", "filled": true, "size": 55, "color": "#1F6FD6", "opacity": 1}},
        {"transform": [{"filter": "datum.L == '26'"}], "mark": {"type": "line", "color": "#19B697", "strokeWidth": 1, "strokeDash": [4,3]}},
        {"transform": [{"filter": "datum.L == '26'"}], "mark": {"type": "point", "shape": "triangle-down", "filled": true, "size": 60, "color": "#19B697", "opacity": 1}},
        {
          "data": {"name": "tau"},
          "transform": [{"filter": "datum.panel == 'c'"}],
          "mark": {"type": "rule", "strokeWidth": 3, "color": "#000", "strokeDash": [3,3.5]},
          "encoding": {
            "x": {"field": "t", "type": "quantitative", "scale": {"type": "log"},
              "axis": {"orient": "top", "offset": 0, "values": [0.01,0.1,1], "grid": true, "domain": false, "ticks": false, "labels": false, "title": null}},
            "y": {"datum": 0.000001, "scale": {"type": "log"}}, "y2": {"datum": 2}}
        }
      ]
    },
    {
      "data": {"name": "caption"},
      "mark": {"type": "text", "align": "left", "baseline": "middle", "font": "DejaVu Serif", "fontSize": 21.5, "color": "#000"},
      "encoding": {
        "y": {"field": "line", "type": "quantitative", "scale": {"domain": [1,8], "range": [398,633], "nice": false, "zero": false}, "axis": null},
        "x": {"datum": 0, "scale": {"domain": [0,1], "range": [612,1140]}, "axis": null},
        "text": {"field": "text"}
      }
    }
  ],
  "resolve": {"scale": {"x": "independent", "y": "independent"}, "axis": {"x": "independent", "y": "independent"}}
}
